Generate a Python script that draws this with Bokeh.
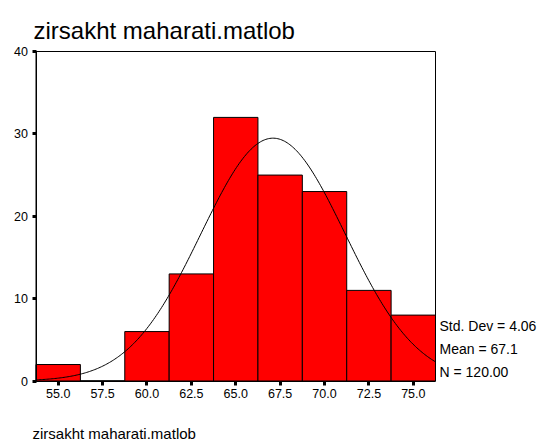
import numpy as np
from bokeh.plotting import figure
from bokeh.models import Range1d, FixedTicker, Label
from bokeh.embed import file_html
from bokeh.resources import INLINE

title_text = "zirsakht maharati.matlob"
footer_text = "zirsakht maharati.matlob"
bin_centers = [55.0, 57.5, 60.0, 62.5, 65.0, 67.5, 70.0, 72.5, 75.0]
counts = [2, 0, 6, 13, 32, 25, 23, 11, 8]
bin_width = 2.5
x_ticks = [55.0, 57.5, 60.0, 62.5, 65.0, 67.5, 70.0, 72.5, 75.0]
y_ticks = [0, 10, 20, 30, 40]
std_dev = 4.06
mean = 67.1
n_total = 120
stat_lines = ["Std. Dev = 4.06", "Mean = 67.1", "N = 120.00"]

FONT = "Liberation Sans"
W, H = 540, 442
xmin, xmax = 53.75, 76.25
ymin, ymax = 0, 40
# frame box in pixels
fl, fr, ft, fb = 35.5, 435.0, 51.0, 380.5
sx = (fr - fl) / (xmax - xmin)
sy = (fb - ft) / (ymax - ymin)

def dx(px):
    return xmin + (px - fl) / sx

def dy(py):
    return ymin + (fb - py) / sy

p = figure(width=W, height=H, output_backend="svg", toolbar_location=None,
           x_range=Range1d(dx(0), dx(W)), y_range=Range1d(dy(H), dy(0)),
           min_border_left=0, min_border_right=0, min_border_top=0, min_border_bottom=0)
p.xgrid.visible = False
p.ygrid.visible = False
p.outline_line_color = None
p.background_fill_color = "white"
p.border_fill_color = "white"

# plot frame box
p.quad(left=[xmin], right=[xmax], bottom=[ymin], top=[ymax],
       fill_color=None, line_color="black", line_width=1)

lefts = [c - bin_width / 2 for c in bin_centers]
rights = [c + bin_width / 2 for c in bin_centers]
p.quad(left=lefts, right=rights, bottom=[0] * len(counts), top=counts,
       fill_color="#ff0000", line_color="black", line_width=1)

xs = np.linspace(xmin, xmax, 300)
ys = n_total * bin_width / (std_dev * np.sqrt(2 * np.pi)) * np.exp(-0.5 * ((xs - mean) / std_dev) ** 2)
p.line(xs, ys, line_color="black", line_width=1)

for ax in (p.xaxis, p.yaxis):
    ax.axis_line_color = "black"
    ax.major_tick_line_color = "black"
    ax.major_tick_line_width = 3
    ax.major_tick_in = 0
    ax.major_tick_out = 4
    ax.minor_tick_line_color = None
    ax.major_label_text_font = FONT
    ax.major_label_text_font_size = "12.5px"
    ax.major_label_text_color = "black"

p.xaxis.fixed_location = 0
p.xaxis.bounds = (xmin, xmax)
p.xaxis.ticker = FixedTicker(ticks=x_ticks)
p.xaxis.major_label_overrides = {t: f"{t:.1f}" for t in x_ticks}
p.xaxis.major_label_standoff = 4
p.yaxis.fixed_location = xmin
p.yaxis.bounds = (ymin, ymax)
p.yaxis.ticker = FixedTicker(ticks=y_ticks)
p.yaxis.major_label_standoff = 4

# title
p.add_layout(Label(x=dx(33), y=dy(30), text=title_text, text_font=FONT,
                   text_font_size="24px", text_color="black", text_baseline="alphabetic"))
# footer
p.add_layout(Label(x=dx(32), y=dy(433), text=footer_text, text_font=FONT,
                   text_font_size="15px", text_color="black", text_baseline="alphabetic"))
# stats
stat_px = [325, 348, 371]
for s, py in zip(stat_lines, stat_px):
    p.add_layout(Label(x=dx(439), y=dy(py), text=s, text_font=FONT,
                       text_font_size="14px", text_color="black", text_baseline="middle"))

open("out.html", "w").write(file_html(p, INLINE))
